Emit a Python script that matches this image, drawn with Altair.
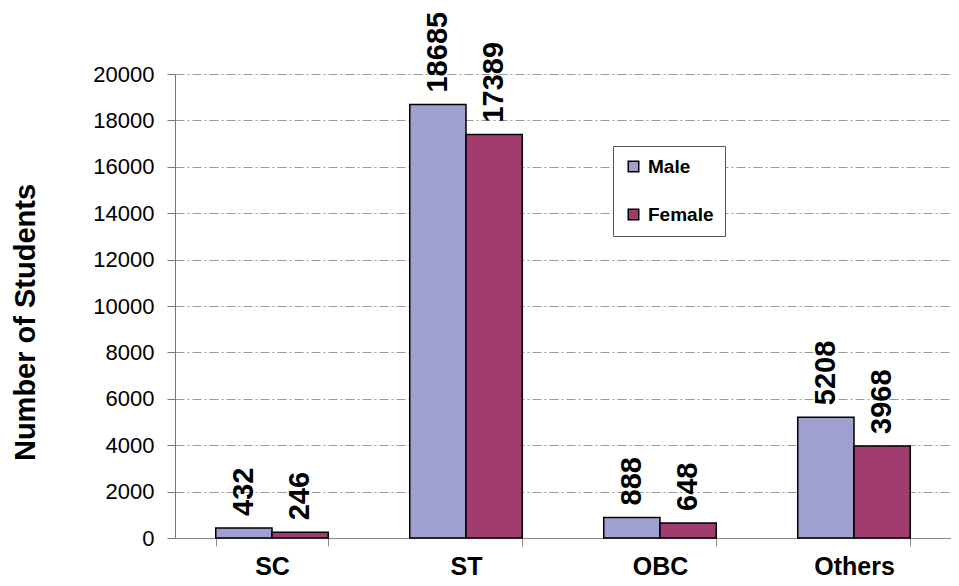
import altair as alt
import pandas as pd

categories = ["SC", "ST", "OBC", "Others"]
male = [432, 18685, 888, 5208]
female = [246, 17389, 648, 3968]
genders = ["Male", "Female"]
colors = ["#9F9FD0", "#A03C6E"]
y_ticks = list(range(0, 20001, 2000))

rows = []
for c, m, f in zip(categories, male, female):
    rows.append({"cat": c, "gender": "Male", "value": m})
    rows.append({"cat": c, "gender": "Female", "value": f})
df = pd.DataFrame(rows)

FONT = "Liberation Sans"

x = alt.X("cat:N", sort=categories,
          scale=alt.Scale(paddingInner=0.42, paddingOuter=0.21),
          axis=alt.Axis(title=None, labelAngle=0, labelFontSize=25, labelFontWeight="bold",
                        labelFont=FONT, labelColor="black", domainColor="#888",
                        tickColor="#888", tickSize=8, tickBand="extent",
                        labelPadding=8, grid=False))
xo = alt.XOffset("gender:N", sort=genders, scale=alt.Scale(paddingInner=0, paddingOuter=0))
y = alt.Y("value:Q", scale=alt.Scale(domain=[0, 20000], nice=False),
          axis=alt.Axis(title="Number of Students", values=y_ticks, format="d",
                        labelFontSize=22, labelFont=FONT, labelColor="black",
                        domainColor="#777", tickColor="#777", tickSize=8, labelPadding=13,
                        gridColor="#999", gridDash=[9, 3, 2, 3], gridWidth=1,
                        titleFontSize=29, titleFont=FONT, titleFontWeight="bold",
                        titleColor="black", titleX=-150, titleY=248, titleAngle=270,
                        titleAlign="center", titleBaseline="middle"))

base = alt.Chart(df).encode(x=x, xOffset=xo)

bars = base.mark_bar(stroke="black", strokeWidth=1.5).encode(
    y=y,
    color=alt.Color("gender:N", sort=genders,
                    scale=alt.Scale(domain=genders, range=colors),
                    legend=alt.Legend(title=None, orient="none", legendX=438, legendY=72,
                                      symbolType="square", symbolSize=110,
                                      symbolStrokeColor="black", symbolStrokeWidth=1.5,
                                      labelFontSize=19, labelFontWeight="bold", labelFont=FONT,
                                      labelColor="black", labelOffset=5, rowPadding=28,
                                      padding=11, strokeColor="#555", fillColor="white")),
)

labels = base.mark_text(angle=270, align="left", baseline="middle", dx=12,
                        fontSize=29, fontWeight="bold", font=FONT, color="black").encode(
    y=alt.Y("value:Q"),
    text=alt.Text("value:Q", format="d"),
)

chart = alt.layer(bars, labels).properties(
    width=776, height=464,
    autosize=alt.AutoSizeParams(type="none"),
    padding={"left": 167, "top": 66, "right": 0, "bottom": 40},
).configure_view(stroke=None)

chart.save("out.html", embed_options={"renderer": "svg", "actions": False})
